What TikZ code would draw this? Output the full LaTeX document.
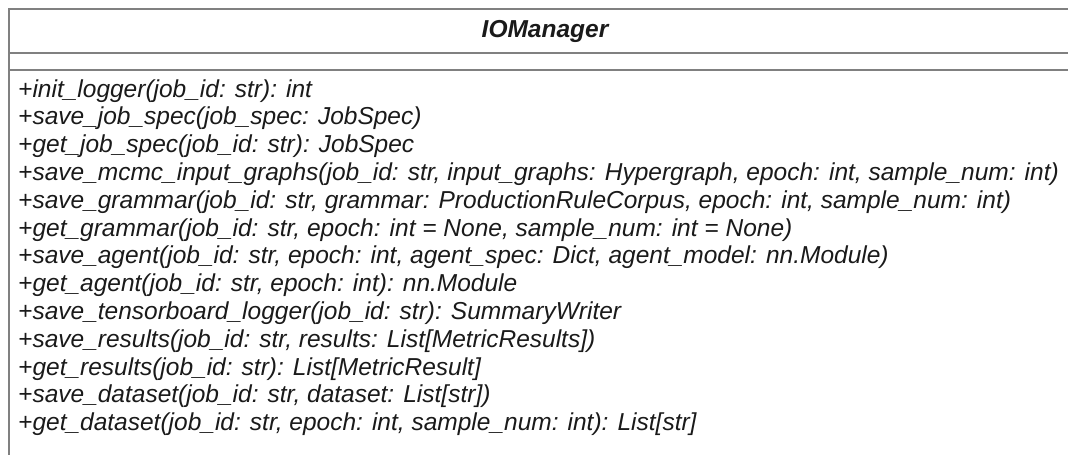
\documentclass[tikz,border=0pt]{standalone}
\usepackage{fontspec}
\setmainfont{Liberation Sans}
\definecolor{umlgray}{HTML}{808080}
\definecolor{umltext}{HTML}{1A1A1A}

\begin{document}
\begin{tikzpicture}[x=1pt,y=-1pt,
    classbox/.style={draw=umlgray,line width=2pt},
    classtitle/.style={font=\fontsize{24.5}{28}\selectfont\bfseries\itshape,text=umltext,inner sep=0pt},
    method/.style={font=\fontsize{24.5}{28}\selectfont\itshape,text=umltext,inner sep=0pt,anchor=base west}]

    \useasboundingbox (0,0) rectangle (1068,455);
    \clip (0,0) rectangle (1068,455);

    % Class box (runs past the right and bottom edge)
    \draw[classbox] (9,9) rectangle (1082,480);
    \draw[classbox] (9,53) -- (1082,53);
    \draw[classbox] (9,70) -- (1082,70);

    % Class name
    \node[classtitle] (title) at (545,31) {IOManager};

    % Methods
    \foreach \m [count=\i] in {
        {+init\_logger(job\_id: str): int},
        {+save\_job\_spec(job\_spec: JobSpec)},
        {+get\_job\_spec(job\_id: str): JobSpec},
        {+save\_mcmc\_input\_graphs(job\_id: str, input\_graphs: Hypergraph, epoch: int, sample\_num: int)},
        {+save\_grammar(job\_id: str, grammar: ProductionRuleCorpus, epoch: int, sample\_num: int)},
        {+get\_grammar(job\_id: str, epoch: int = None, sample\_num: int = None)},
        {+save\_agent(job\_id: str, epoch: int, agent\_spec: Dict, agent\_model: nn.Module)},
        {+get\_agent(job\_id: str, epoch: int): nn.Module},
        {+save\_tensorboard\_logger(job\_id: str): SummaryWriter},
        {+save\_results(job\_id: str, results: List[MetricResults])},
        {+get\_results(job\_id: str): List[MetricResult]},
        {+save\_dataset(job\_id: str, dataset: List[str])},
        {+get\_dataset(job\_id: str, epoch: int, sample\_num: int): List[str]}} {
        \node[method] (m\i) at (18,{97+(\i-1)*27.8}) {\m};
    }
\end{tikzpicture}
\end{document}
